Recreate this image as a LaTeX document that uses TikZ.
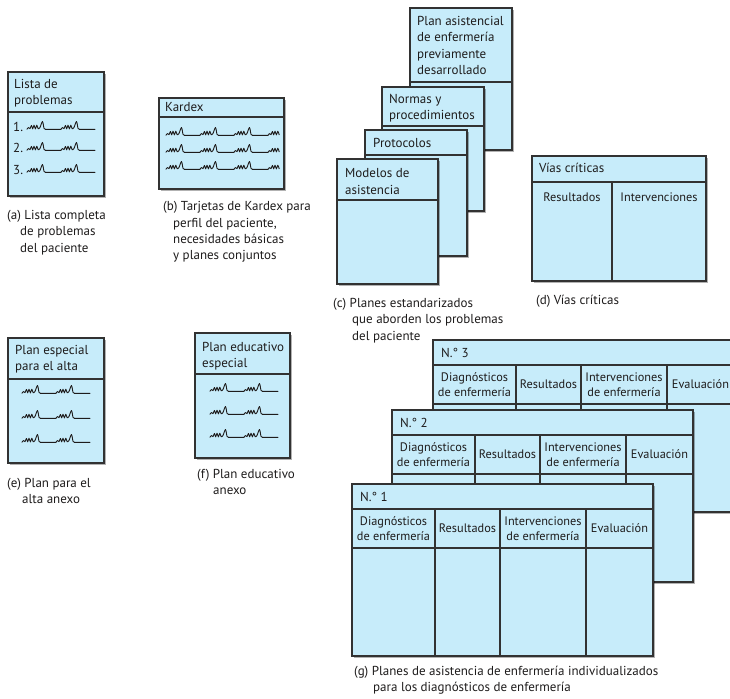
\documentclass[tikz,border=0pt]{standalone}
\usepackage{fontspec}
\setmainfont{PT Sans}
\usetikzlibrary{shadows}

\definecolor{cardfill}{RGB}{199,236,250}
\definecolor{rulec}{RGB}{50,50,50}
\definecolor{ink}{RGB}{30,28,28}

\tikzset{
  card/.style={draw=rulec, fill=cardfill, line width=1.1bp,
    drop shadow={shadow xshift=2bp, shadow yshift=-2bp, fill=black, opacity=0.3}},
  sep/.style={draw=rulec, line width=1.1bp},
  txt/.style={font=\fontsize{13bp}{16.3bp}\selectfont, text=ink, inner sep=0pt,
    align=left, anchor=west},
  cell/.style={font=\fontsize{12.3bp}{15bp}\selectfont, text=ink, inner sep=0pt,
    align=center, anchor=center},
  scribline/.style={draw=ink, line width=0.9bp, line join=round, line cap=round},
  % one handwritten "word": small arches, a tall stroke, then a flat tail
  scrib/.pic={
    \path[scribline] plot[smooth, tension=0.5] coordinates {
      (0,1.2) (1.5,-0.4) (3,0.6) (4.5,-2.5) (5.7,0.9) (7,-2.8) (8.4,0.9)
      (9.8,-2.8) (11.2,0.8) (13,-0.6) (15.5,-6.5) (17,0.3) (18.5,1.4)} -- (34,1.4);
  },
  scribtail/.pic={
    \path[scribline] plot[smooth, tension=0.5] coordinates {
      (0,1.4) (1.5,-0.4) (3,0.6) (4.5,-2.5) (5.7,0.9) (7,-2.8) (8.4,0.9)
      (9.8,-2.8) (11.2,0.8)};
  }
}

% individualized care-plan sheet: top-left corner x, y and sheet number
\newcommand\plancard[3]{%
  \begin{scope}[shift={(#1,#2)}]
    \path[card] (0,0) rectangle (301,172);
    \draw[sep] (0,25) -- (301,25);
    \draw[sep] (0,64) -- (301,64);
    \draw[sep] (83,25) -- (83,172);
    \draw[sep] (148,25) -- (148,172);
    \draw[sep] (234,25) -- (234,172);
    \node[txt] (g#3-head) at (8,12.5) {N.° #3};
    \node[cell] (g#3-diag) at (41.5,44.5) {Diagnósticos\\de enfermería};
    \node[cell] (g#3-res) at (115.5,44.5) {Resultados};
    \node[cell] (g#3-int) at (191,44.5) {Intervenciones\\de enfermería};
    \node[cell] (g#3-eval) at (267.5,44.5) {Evaluación};
  \end{scope}%
}

\begin{document}
\begin{tikzpicture}[x=1bp, y=-1bp]
  \useasboundingbox (0,0) rectangle (730,699);
  \fill[white] (0,0) rectangle (730,699);
  \clip (0,0) rectangle (730,699);

  % (a) problem list
  \path[card] (8,72) rectangle (104,196);
  \draw[sep] (8,112) -- (104,112);
  \node[txt] (a-head) at (14,93.5) {Lista de\\problemas};
  \node[txt] (a-1) at (13,127) {1.};
  \node[txt] (a-2) at (13,148) {2.};
  \node[txt] (a-3) at (13,170) {3.};
  \foreach \yy in {128,149,171} {
    \pic at (27,\yy) {scrib};
    \pic at (61,\yy) {scrib};
  }
  \node[txt] (a-cap) at (7,232.5)
    {(a) Lista completa\\\hspace*{13bp}de problemas\\\hspace*{13bp}del paciente};

  % (b) Kardex
  \path[card] (159,98) rectangle (284,189);
  \draw[sep] (159,117) -- (284,117);
  \node[txt] (b-head) at (165,107.5) {Kardex};
  \foreach \yy in {134,151,168} {
    \pic at (166,\yy) {scrib};
    \pic at (200,\yy) {scrib};
    \pic at (234,\yy) {scrib};
    \pic at (268,\yy) {scribtail};
  }
  \node[txt] (b-cap) at (163,232)
    {(b) Tarjetas de Kardex para\\\hspace*{10bp}perfil del paciente,\\\hspace*{10bp}necesidades básicas\\\hspace*{10bp}y planes conjuntos};

  % (c) standardized plans, back to front
  \path[card] (410,8) rectangle (512,150);
  \draw[sep] (410,82) -- (512,82);
  \node[txt] (c4) at (417,45.5)
    {Plan asistencial\\de enfermería\\previamente\\desarrollado};
  \path[card] (382,87) rectangle (484,211);
  \draw[sep] (382,126) -- (484,126);
  \node[txt] (c3) at (389,108.5) {Normas y\\procedimientos};
  \path[card] (365,130) rectangle (467,256);
  \draw[sep] (365,155) -- (467,155);
  \node[txt] (c2) at (373,143) {Protocolos};
  \path[card] (337,159) rectangle (438,284);
  \draw[sep] (337,200) -- (438,200);
  \node[txt] (c1) at (345,181.5) {Modelos de\\asistencia};
  \node[txt] (c-cap) at (333,320.5)
    {(c) Planes estandarizados\\\hspace*{19bp}que aborden los problemas\\\hspace*{19bp}del paciente};

  % (d) critical pathways
  \path[card] (532,156) rectangle (706,281);
  \draw[sep] (532,182) -- (706,182);
  \draw[sep] (612,182) -- (612,281);
  \node[txt] (d-head) at (539,168) {Vías críticas};
  \node[cell] (d-res) at (572,197) {Resultados};
  \node[cell] (d-int) at (659,197) {Intervenciones};
  \node[txt] (d-cap) at (536,301) {(d) Vías críticas};

  % (e) discharge plan
  \path[card] (8,338) rectangle (104,463);
  \draw[sep] (8,379) -- (104,379);
  \node[txt] (e-head) at (15,359.5) {Plan especial\\para el alta};
  \foreach \yy in {392,417,441} {
    \pic at (22,\yy) {scrib};
    \pic at (56,\yy) {scrib};
  }
  \node[txt] (e-cap) at (7,491) {(e) Plan para el\\\hspace*{15bp}alta anexo};

  % (f) teaching plan
  \path[card] (195,333) rectangle (290,458);
  \draw[sep] (195,374) -- (290,374);
  \node[txt] (f-head) at (202,356.5) {Plan educativo\\especial};
  \foreach \yy in {390,413,436} {
    \pic at (210,\yy) {scrib};
    \pic at (244,\yy) {scrib};
  }
  \node[txt] (f-cap) at (197,482) {(f) Plan educativo\\\hspace*{16bp}anexo};

  % (g) individualized care plans, back to front
  \plancard{433}{340}{3}
  \plancard{392}{410}{2}
  \plancard{352}{484}{1}
  \node[txt] (g-cap) at (354,680.5)
    {(g) Planes de asistencia de enfermería individualizados\\\hspace*{19bp}para los diagnósticos de enfermería};
\end{tikzpicture}
\end{document}
